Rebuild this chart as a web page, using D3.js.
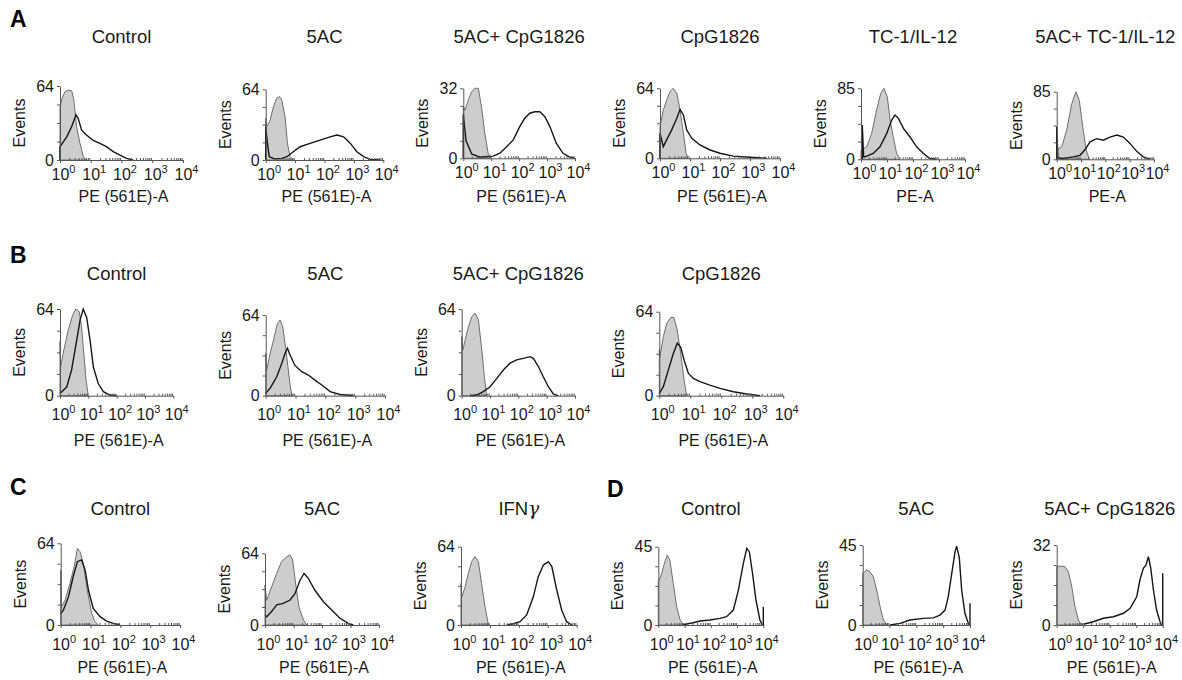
<!DOCTYPE html>
<html>
<head>
<meta charset="utf-8">
<script src="https://cdn.jsdelivr.net/npm/d3@7"></script>
<style>
  body { margin: 0; background: #fff; }
  svg { font-family: Arial, "Liberation Sans", sans-serif; }
</style>
</head>
<body>
<div id="mainDiv"></div>
<script>
'use strict';

// panel titles, y max and x label, in reading order (A1..A6, B1..B4, C1..C3, D1..D3)
var titles = ['Control', '5AC', '5AC+ CpG1826', 'CpG1826', 'TC-1/IL-12', '5AC+ TC-1/IL-12',
              'Control', '5AC', '5AC+ CpG1826', 'CpG1826',
              'Control', '5AC', 'IFN\u03b3',
              'Control', '5AC', '5AC+ CpG1826'];
var yMax = [64, 64, 32, 64, 85, 85, 64, 64, 64, 64, 64, 64, 64, 45, 45, 32];
var xLabels = ['PE (561E)-A', 'PE (561E)-A', 'PE (561E)-A', 'PE (561E)-A', 'PE-A', 'PE-A',
               'PE (561E)-A', 'PE (561E)-A', 'PE (561E)-A', 'PE (561E)-A',
               'PE (561E)-A', 'PE (561E)-A', 'PE (561E)-A',
               'PE (561E)-A', 'PE (561E)-A', 'PE (561E)-A'];
var decades = [0, 1, 2, 3, 4];   // 10^0 .. 10^4
var rowLetters = ['A', 'B', 'C', 'D'];

// histograms: [log10 of PE, events]; shaded = isotype, open = stained
var a1Shaded = [[0,45],[0.05,52],[0.16,59],[0.27,60.5],[0.38,60],[0.45,52],[0.54,29],[0.65,14.4],[0.76,2.9],[0.84,0]];
var a1Open = [[0,0],[0,11.5],[0.22,20],[0.38,29],[0.52,39],[0.59,36],[0.70,26],[0.86,21.6],[1.08,17],[1.30,14.4],[1.51,11.5],[1.73,7.2],[1.95,4.3],[2.16,1.4],[2.38,0]];
var a2Shaded = [[0,38],[0.03,30],[0.15,36],[0.26,48],[0.375,56],[0.47,57.4],[0.55,54],[0.66,39],[0.74,15],[0.83,3],[0.94,0]];
var a2Open = [[0,0],[0,30],[0.06,15],[0.12,3],[0.3,1],[0.55,1.5],[0.72,3],[0.94,7.5],[1.17,12],[1.51,15],[1.85,18],[2.19,21],[2.42,22.6],[2.65,21],[2.88,15],[3.10,7.5],[3.33,3],[3.56,0.6],[3.9,0]];
var a3Shaded = [[0,23.6],[0.06,22],[0.18,26.7],[0.3,30.5],[0.42,32],[0.54,32],[0.65,23.6],[0.77,11.4],[0.89,2.3],[1.01,0]];
var a3Open = [[0,0],[0,20],[0.1,8],[0.3,2],[0.6,0.5],[0.83,0.8],[1.07,1],[1.31,2.3],[1.55,5.3],[1.79,8.4],[2.02,14.5],[2.2,18.3],[2.38,20.6],[2.56,21.3],[2.74,21.3],[2.92,19],[3.1,14.5],[3.33,6.9],[3.57,2.3],[3.81,0.5],[4,0]];
var a4Shaded = [[0,29],[0.11,44],[0.22,53],[0.33,61],[0.44,64],[0.56,59.5],[0.67,44],[0.78,23],[0.87,4.6],[0.94,0]];
var a4Open = [[0,0],[0,23],[0.11,10.7],[0.22,16.8],[0.39,26],[0.56,36.6],[0.67,44.8],[0.78,39.6],[0.89,26],[1.06,18.3],[1.33,12.2],[1.67,7.6],[2.0,4.6],[2.44,2],[3.0,1],[3.56,0]];
var a5Shaded = [[0,11],[0.22,15],[0.41,31],[0.60,59],[0.76,79],[0.88,85],[1.01,75],[1.12,47],[1.24,27],[1.37,7],[1.5,0]];
var a5Open = [[0.05,0],[0.05,41],[0.1,3],[0.15,3],[0.47,7],[0.73,15],[0.99,31],[1.18,47],[1.31,53],[1.44,49],[1.63,37],[1.88,27],[2.14,15],[2.4,7],[2.65,1],[2.91,0]];
var a6Shaded = [[0,12],[0.21,16],[0.41,37],[0.62,70],[0.79,85],[0.93,74],[1.07,41],[1.21,12],[1.34,0]];
var a6Open = [[0,0],[0,41],[0.05,2],[0.27,1],[0.68,3],[0.96,5],[1.16,12],[1.37,22],[1.64,26],[1.92,24],[2.19,28],[2.47,30.5],[2.74,28],[3.01,20],[3.29,10],[3.56,3],[3.84,0]];

var b1Shaded = [[0,40],[0.02,21],[0.14,34],[0.29,48.5],[0.45,59.6],[0.56,64],[0.68,62],[0.76,51],[0.85,29],[0.92,11.6],[1.0,0]];
var b1Open = [[0,1.7],[0.24,6.6],[0.41,19],[0.59,41],[0.71,56],[0.82,64],[0.94,58],[1.06,41],[1.18,21],[1.35,9],[1.53,3],[1.76,0.5],[2.0,0]];
var b2Shaded = [[0,33.6],[0.03,20],[0.15,33.6],[0.26,44],[0.39,57],[0.48,60],[0.57,55],[0.68,36],[0.77,18],[0.84,4.5],[0.9,0]];
var b2Open = [[0,2],[0.15,6],[0.37,15],[0.54,25.7],[0.65,33.6],[0.73,37.6],[0.82,32],[0.98,24],[1.21,19],[1.43,16.4],[1.65,12.4],[1.88,8.5],[2.16,3.2],[2.49,1],[2.94,0]];
var b3Shaded = [[0,43.6],[0.04,33.7],[0.12,41],[0.24,51],[0.35,58],[0.47,61],[0.59,56],[0.71,33.7],[0.8,14],[0.88,0]];
var b3Open = [[0.3,0],[0.53,0.5],[0.76,3],[1.0,6.6],[1.24,12.8],[1.47,19],[1.71,24],[1.94,26.4],[2.18,27.6],[2.41,28.8],[2.53,27.6],[2.71,21.4],[2.88,14],[3.06,6.6],[3.24,1.2],[3.41,0]];
var b4Shaded = [[0,34.8],[0.02,29.7],[0.13,45],[0.24,55],[0.37,59.6],[0.47,59.6],[0.58,50],[0.69,32],[0.8,12],[0.88,0]];
var b4Open = [[0,1.8],[0.13,6.9],[0.29,19.5],[0.45,32],[0.58,40],[0.69,37],[0.8,27],[0.94,17],[1.1,13.2],[1.31,10.7],[1.63,8],[1.96,5.6],[2.39,3],[2.82,1.3],[3.25,0]];

var c1Shaded = [[0,43],[0.03,14.4],[0.15,19.6],[0.31,32.6],[0.45,45.7],[0.56,60],[0.65,57.4],[0.76,48],[0.89,27.4],[1.04,9.1],[1.15,2.6],[1.26,0]];
var c1Open = [[0,9],[0.09,11.7],[0.26,22],[0.42,38],[0.56,49.6],[0.7,51],[0.82,43],[0.93,27.4],[1.09,13],[1.32,6.5],[1.54,3.1],[1.77,1.3],[1.99,0]];
var c2Shaded = [[0,35.7],[0.06,22],[0.23,34],[0.41,46],[0.58,56.5],[0.76,61],[0.88,62.5],[0.97,58],[1.09,34],[1.2,15],[1.35,4.5],[1.46,0]];
var c2Open = [[0,9],[0.06,7.4],[0.23,12],[0.41,18],[0.64,19.3],[0.88,22.3],[1.05,28],[1.23,40],[1.37,46],[1.52,41.7],[1.75,31],[2.05,20.8],[2.34,13.4],[2.63,6],[2.92,1.5],[3.1,0]];
var c3Shaded = [[0,34],[0.03,23],[0.14,31],[0.25,42],[0.37,52],[0.48,56],[0.6,52],[0.71,34],[0.83,15],[0.95,0]];
var c3Open = [[1.58,0],[1.81,1],[2.04,2.7],[2.27,8.2],[2.5,23],[2.67,39.5],[2.85,49],[3.02,51.8],[3.14,47.7],[3.31,28.6],[3.48,12.3],[3.65,2.7],[3.83,0]];

var d1Shaded = [[0,25.8],[0.04,25.8],[0.13,29.7],[0.25,36.4],[0.34,40.2],[0.44,37.4],[0.57,24],[0.7,10.5],[0.83,2.9],[0.95,0]];
var d1Open = [[0.9,0],[1.08,0.6],[1.33,1.3],[1.59,2.3],[1.97,2.9],[2.35,3.8],[2.6,4.8],[2.86,8.6],[3.05,20],[3.24,35.4],[3.37,44],[3.47,42],[3.59,29.7],[3.72,14.4],[3.87,2.9],[3.97,0],[4,0],[4,10.5]];
var d2Shaded = [[0,29],[0.15,31],[0.27,30],[0.4,27],[0.52,19.7],[0.65,10.3],[0.77,2.8],[0.92,0]];
var d2Open = [[1.02,0],[1.39,0.9],[1.76,2.8],[2.26,3.75],[2.63,4],[2.88,5.6],[3.07,8.4],[3.19,16],[3.32,29],[3.44,41],[3.5,44.4],[3.6,38],[3.69,19.7],[3.81,6.6],[3.94,0.9],[3.98,0],[4,0],[4,12.2]];
var d3Shaded = [[0,23.3],[0.15,23.6],[0.31,23.3],[0.44,21.3],[0.57,15.3],[0.69,7.3],[0.82,2],[0.94,0]];
var d3Open = [[1.01,0.3],[1.38,1.3],[1.76,2.7],[2.14,3.3],[2.52,4.7],[2.77,6.7],[3.02,11.3],[3.14,18],[3.27,22.7],[3.37,24],[3.46,27.3],[3.55,22.7],[3.65,14],[3.77,6],[3.9,1.3],[3.96,0],[4,0],[4,20.7]];

var shadedSets = [a1Shaded, a2Shaded, a3Shaded, a4Shaded, a5Shaded, a6Shaded,
                  b1Shaded, b2Shaded, b3Shaded, b4Shaded,
                  c1Shaded, c2Shaded, c3Shaded, d1Shaded, d2Shaded, d3Shaded];
var openSets = [a1Open, a2Open, a3Open, a4Open, a5Open, a6Open,
                b1Open, b2Open, b3Open, b4Open,
                c1Open, c2Open, c3Open, d1Open, d2Open, d3Open];

var fig = {};
fig.w = 1182;
fig.h = 680;

// layout: plot box of each panel [x left, x right, y top, y bottom] and its row
fig.boxes = [
  [60, 183, 86, 160], [265.7, 383.3, 89.3, 160], [463.3, 575, 88.3, 158.3],
  [660, 780, 88.3, 158.3], [861, 965, 88.3, 159.3], [1056.7, 1154, 91.7, 159.3],
  [60, 173.3, 309, 395.7], [265.7, 385, 315, 395.7], [461.7, 575, 309, 395.7], [659.3, 783.3, 311.7, 395.7],
  [60.7, 180, 543.3, 625], [265, 379, 553.3, 625], [461, 576.7, 546.7, 625],
  [658.3, 763.3, 546.7, 625], [862.7, 970, 545, 625], [1056.7, 1162.7, 545, 625]
];
fig.rowOf = [0,0,0,0,0,0, 1,1,1,1, 2,2,2, 2,2,2];
fig.titleY = [43, 280, 515];
fig.tickY = [20, 24.5, 25];
fig.labelY = [202, 446, 673];
fig.letterPos = [[10, 27], [10, 263], [10, 495], [607, 497]];

fig.textColor = '#1a1a1a';
fig.axisColor = '#555';

fig.appendSvg = function(div)
{
  return d3.select(div).append('svg')
    .attr('width', fig.w)
    .attr('height', fig.h);
};

fig.drawPanel = function(svg, i)
{
  var b = fig.boxes[i], row = fig.rowOf[i];
  var g = svg.append('g').attr('class', 'panel');

  var x = d3.scaleLog().domain([1, 1e4]).range([b[0], b[1]]);
  var y = d3.scaleLinear().domain([0, yMax[i]]).range([b[3], b[2]]);

  var area = d3.area()
    .x(function(d) { return x(Math.pow(10, d[0])); })
    .y0(y(0))
    .y1(function(d) { return y(d[1]); });
  var line = d3.line()
    .x(function(d) { return x(Math.pow(10, d[0])); })
    .y(function(d) { return y(d[1]); });

  g.append('path')
    .datum(shadedSets[i])
    .attr('d', area)
    .attr('fill', '#cdcdcd')
    .attr('stroke', '#6e6e6e')
    .attr('stroke-width', 1);

  g.append('path')
    .datum(openSets[i])
    .attr('d', line)
    .attr('fill', 'none')
    .attr('stroke', '#161616')
    .attr('stroke-width', 1.4);

  // x axis: minor ticks, then decades with 10^n labels
  var minors = [];
  decades.slice(0, 4).forEach(function(p) {
    for (var k = 2; k < 10; k++) minors.push(k * Math.pow(10, p));
  });
  g.append('g')
    .attr('transform', 'translate(0,' + b[3] + ')')
    .call(d3.axisBottom(x).tickValues(minors).tickSize(-2).tickFormat(''))
    .call(function(s) { s.select('.domain').remove(); })
    .selectAll('line').attr('stroke', fig.axisColor);

  var xg = g.append('g')
    .attr('transform', 'translate(0,' + b[3] + ')')
    .call(d3.axisBottom(x)
      .tickValues(decades.map(function(p) { return Math.pow(10, p); }))
      .tickSize(3).tickSizeOuter(0).tickFormat(''));
  xg.select('.domain').attr('stroke', fig.axisColor);
  xg.selectAll('line').attr('stroke', fig.axisColor);

  decades.forEach(function(p) {
    var t = g.append('text')
      .attr('x', x(Math.pow(10, p)) - 8.5)
      .attr('y', b[3] + fig.tickY[row])
      .attr('fill', fig.textColor)
      .style('font-size', '16px');
    t.append('tspan').text('10');
    t.append('tspan').attr('dy', -7).style('font-size', '11px').text(p);
  });

  // y axis: quarter ticks, labels only at 0 and max
  var q = yMax[i] / 4;
  var yg = g.append('g')
    .attr('transform', 'translate(' + b[0] + ',0)')
    .call(d3.axisLeft(y).tickValues([0, q, 2 * q, 3 * q, yMax[i]]).tickSize(3).tickSizeOuter(0)
      .tickFormat(function(d) { return (d === 0 || d === yMax[i]) ? d : ''; }));
  yg.select('.domain').attr('stroke', fig.axisColor);
  yg.selectAll('line').attr('stroke', fig.axisColor);
  yg.selectAll('text')
    .attr('x', -6)
    .attr('fill', fig.textColor)
    .style('font-size', '16px')
    .style('font-family', 'Arial, "Liberation Sans", sans-serif');

  g.append('text')
    .attr('transform', 'translate(' + (b[0] - 35) + ',' + ((b[2] + b[3]) / 2) + ') rotate(-90)')
    .attr('text-anchor', 'middle')
    .attr('fill', fig.textColor)
    .style('font-size', '16px')
    .text('Events');

  // title; a greek gamma is set as an italic symbol like in the figure
  var title = g.append('text')
    .attr('x', (b[0] + b[1]) / 2)
    .attr('y', fig.titleY[row])
    .attr('text-anchor', 'middle')
    .attr('fill', fig.textColor)
    .style('font-size', '18.5px');
  var parts = titles[i].split('\u03b3');
  title.append('tspan').text(parts[0]);
  if (parts.length > 1) {
    title.append('tspan')
      .style('font-family', '"DejaVu Serif", serif')
      .style('font-style', 'italic')
      .text('\u03b3');
  }

  g.append('text')
    .attr('x', (b[0] + b[1]) / 2 + 2)
    .attr('y', fig.labelY[row])
    .attr('text-anchor', 'middle')
    .attr('fill', fig.textColor)
    .style('font-size', '16px')
    .text(xLabels[i]);
};

fig.addLetters = function(svg)
{
  svg.selectAll('text.letter')
    .data(rowLetters)
    .enter()
    .append('text')
    .attr('class', 'letter')
    .attr('x', function(d, i) { return fig.letterPos[i][0]; })
    .attr('y', function(d, i) { return fig.letterPos[i][1]; })
    .attr('fill', '#000')
    .style('font-size', '23px')
    .style('font-weight', 'bold')
    .text(function(d) { return d; });
};

fig.run = function()
{
  var svg = fig.appendSvg('#mainDiv');
  for (var i = 0; i < titles.length; i++) fig.drawPanel(svg, i);
  fig.addLetters(svg);
};

window.onload = fig.run;
</script>
</body>
</html>
